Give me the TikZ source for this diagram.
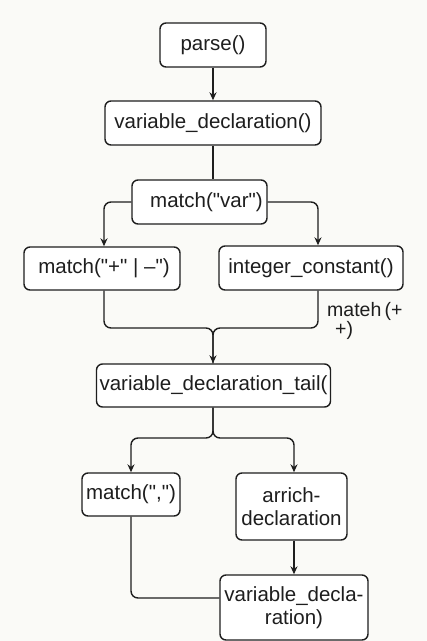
\documentclass[tikz,border=0pt]{standalone}
\usepackage{fontspec}
\setmainfont{Liberation Sans}[Ligatures=TeXOff]
\usetikzlibrary{arrows.meta,calc}
\definecolor{bg}{HTML}{FAFAF7}
\definecolor{ink}{HTML}{1E1E1E}
\tikzset{
  box/.style={draw=ink, line width=1.4pt, rounded corners=6pt, fill=white, text=ink,
    inner xsep=1pt, inner ysep=0pt, align=center,
    font=\fontsize{20.5}{23}\selectfont},
  conn/.style={draw=ink, line width=1.4pt, rounded corners=7pt},
  arr/.style={conn, -{Stealth[length=8pt,width=7pt]}},
  lbl/.style={text=ink, align=left, inner sep=0pt, font=\fontsize{19.5}{19}\selectfont}
}
\begin{document}
\begin{tikzpicture}[x=1pt,y=-1pt]
\fill[bg] (0,0) rectangle (427,641);
\useasboundingbox (0,0) rectangle (427,641);

\node[box, minimum width=106pt, minimum height=44pt] (parse) at (213,45) {parse()};
\node[box, minimum width=216pt, minimum height=44pt] (vd) at (213,123) {variable\_declaration()};
\node[box, minimum width=135pt, minimum height=44pt] (mv) at (199.5,202) {\hspace*{14pt}match("var")};
\node[box, minimum width=156pt, minimum height=43pt] (mpm) at (102,268.5) {\hspace*{4pt}match("+" | –")};
\node[box, minimum width=184pt, minimum height=44pt] (ic) at (311,268) {integer\_constant()};
\node[box, minimum width=234pt, minimum height=43pt] (vdt) at (213.5,385.5) {variable\_declaration\_tail(};
\node[box, minimum width=98pt, minimum height=43pt] (mc) at (131,494.5) {match(",")};
\node[box, minimum width=111pt, minimum height=67pt] (ad) at (291.5,506.5) {arrich-\\declaration};
\node[box, minimum width=148pt, minimum height=65pt] (vd2) at (294,607.5) {variable\_decla-\\ration)};

\node[lbl, anchor=north west] (lab) at (327,302) {mateh\,(+\\[0pt]\hspace*{8pt}+)};

\coordinate (j) at (213,328);
\coordinate (k) at (213,438);
\coordinate (adb) at ($(ad.south)+(2.5,0)$);

\draw[arr] (parse.south) -- (vd.north);
\draw[conn] (vd.south) -- (vd.south |- mv.north);
\draw[arr] (mv.west) -| ($(mpm.north)+(2,0)$);
\draw[arr] (mv.east) -| ($(ic.north)+(7,0)$);
\draw[conn] ($(mpm.south)+(2,0)$) |- (j) -- ($(vdt.north)+(-0.5,0)$);
\draw[arr] ($(ic.south)+(7,0)$) |- (j) -- ($(vdt.north)+(-0.5,0)$);
\draw[arr] ($(vdt.south)+(-0.5,0)$) -- (k) -| (mc.north);
\draw[arr] ($(vdt.south)+(-0.5,0)$) -- (k) -| ($(ad.north)+(2.5,0)$);
\draw[arr] (adb) -- (adb |- vd2.north);
\draw[conn] (mc.south) |- (vd2.west |- 0,598);
\end{tikzpicture}
\end{document}
